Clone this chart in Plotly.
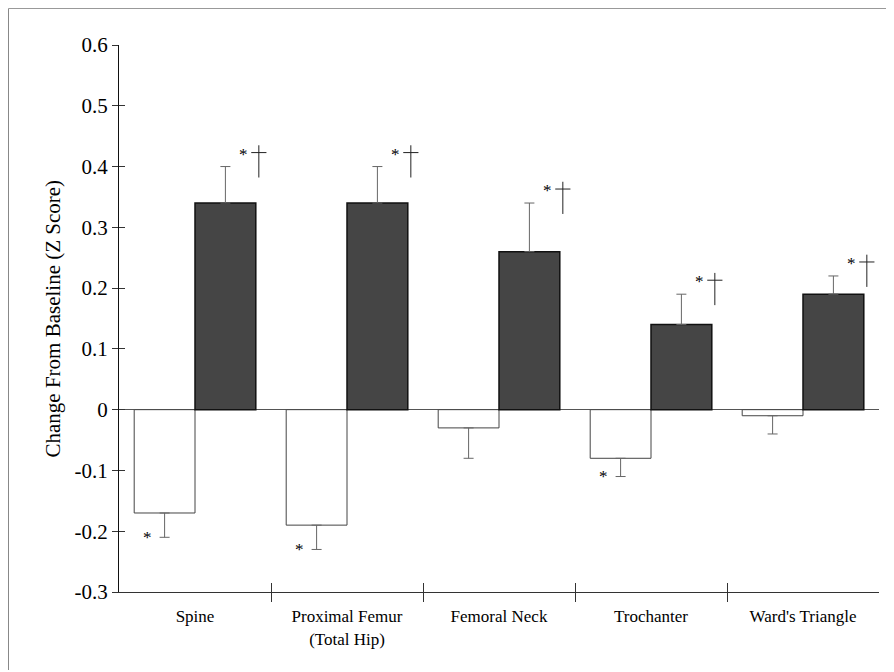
import plotly.graph_objects as go

# ---- data ----
categories = ["Spine", "Proximal Femur<br>(Total Hip)", "Femoral Neck", "Trochanter", "Ward's Triangle"]
control_change = [-0.17, -0.19, -0.03, -0.08, -0.01]
control_err = [0.04, 0.04, 0.05, 0.03, 0.03]
control_sig = [True, True, False, True, False]
treated_change = [0.34, 0.34, 0.26, 0.14, 0.19]
treated_err = [0.06, 0.06, 0.08, 0.05, 0.03]
treated_sig = [True, True, True, True, True]
y_ticks = [0.6, 0.5, 0.4, 0.3, 0.2, 0.1, 0.0, -0.1, -0.2, -0.3]
y_tick_labels = ["0.6", "0.5", "0.4", "0.3", "0.2", "0.1", "0", "-0.1", "-0.2", "-0.3"]

idx = list(range(len(categories)))
bounds = [i + 0.5 for i in idx[:-1]]
serif = "Liberation Serif, Times New Roman, serif"
zeros = [0] * len(idx)

# figure sits 8px in from the page corner (body margin)
W, H = 886, 664
ML, MR, MT, MB = 111, 15, 37, 80
PW, PH = W - ML - MR, H - MT - MB

fig = go.Figure()
fig.add_trace(go.Bar(
    x=idx, y=control_change, name="control",
    marker=dict(color="white", line=dict(color="#444", width=1)),
    error_y=dict(type="data", symmetric=False, array=zeros, arrayminus=control_err,
                 color="#666", thickness=1, width=5),
))
fig.add_trace(go.Bar(
    x=idx, y=treated_change, name="treated",
    marker=dict(color="#454545", line=dict(color="#111", width=1.5)),
    error_y=dict(type="data", symmetric=False, array=treated_err, arrayminus=zeros,
                 color="#666", thickness=1, width=5),
))

# daggers (drawn as thin crosses) above treated bars
dx, dy = [], []
for i, v, e, s in zip(idx, treated_change, treated_err, treated_sig):
    if not s:
        continue
    top = v + e
    xc = i + 0.42
    cross = top + 0.023
    dx += [xc, xc, None, xc - 0.05, xc + 0.05, None]
    dy += [cross + 0.012, cross - 0.041, None, cross, cross, None]
fig.add_trace(go.Scatter(x=dx, y=dy, mode="lines", line=dict(color="#222", width=1),
                         hoverinfo="skip", showlegend=False))

# asterisks
star_font = dict(family=serif, size=17, color="#000000")
for i, v, e, s in zip(idx, treated_change, treated_err, treated_sig):
    if s:
        fig.add_annotation(x=i + 0.32, y=v + e + 0.027, text="*", showarrow=False,
                           font=star_font, yshift=-4)
for i, v, e, s in zip(idx, control_change, control_err, control_sig):
    if s:
        fig.add_annotation(x=i - 0.31, y=v - e + 0.007, text="*", showarrow=False,
                           font=star_font, yshift=-4)

# invisible trace for overlay axes (crossing ticks)
fig.add_trace(go.Scatter(x=[None], y=[None], xaxis="x2", yaxis="y2", showlegend=False,
                         hoverinfo="skip"))

fig.add_annotation(xref="paper", yref="paper", x=(30 - ML) / PW, y=0.5,
                   text="Change From Baseline (Z Score)", textangle=-90, showarrow=False,
                   font=dict(family=serif, size=21, color="#000"))

# outer frame (left and top edges)
fx = (0.5 - ML) / PW
fy = (PH + MT - 0.5) / PH
fig.add_shape(type="line", xref="paper", yref="paper", x0=fx, x1=fx,
              y0=fy, y1=(MT + PH - 662) / PH, line=dict(color="#888", width=1))
fig.add_shape(type="line", xref="paper", yref="paper", x0=fx, x1=(W - 1 - ML) / PW,
              y0=fy, y1=fy, line=dict(color="#999", width=1))

fig.update_layout(
    width=W, height=H,
    margin=dict(l=ML, r=MR, t=MT, b=MB),
    paper_bgcolor="white", plot_bgcolor="white",
    barmode="group", bargap=0.2, bargroupgap=0,
    showlegend=False,
    font=dict(family=serif, color="#000"),
    xaxis=dict(range=[-0.5, 4.5], tickmode="array", tickvals=idx, ticktext=categories,
               ticks="", showgrid=False, zeroline=False,
               showline=True, linecolor="#333", linewidth=1,
               tickfont=dict(family=serif, size=17, color="#000"),
               ticklabelstandoff=9,
               minor=dict(tickmode="array", tickvals=bounds, ticks="outside", ticklen=9,
                          tickcolor="#333", tickwidth=1, showgrid=False)),
    xaxis2=dict(range=[-0.5, 4.5], overlaying="x", anchor="y", side="bottom",
                tickmode="array", tickvals=bounds, ticks="inside", ticklen=9,
                tickcolor="#333", showticklabels=False, showgrid=False, zeroline=False,
                showline=False),
    yaxis=dict(range=[-0.3, 0.6], tickmode="array", tickvals=y_ticks, ticktext=y_tick_labels,
               ticks="outside", ticklen=6, tickcolor="#333", showgrid=False,
               zeroline=True, zerolinecolor="#555", zerolinewidth=1,
               showline=True, linecolor="#111", linewidth=1,
               tickfont=dict(family=serif, size=21, color="#000")),
    yaxis2=dict(range=[-0.3, 0.6], overlaying="y", anchor="x", side="left",
                tickmode="array", tickvals=y_ticks, ticks="inside", ticklen=6,
                tickcolor="#333", showticklabels=False, showgrid=False, zeroline=False,
                showline=False),
)

fig.write_html("out.html")
